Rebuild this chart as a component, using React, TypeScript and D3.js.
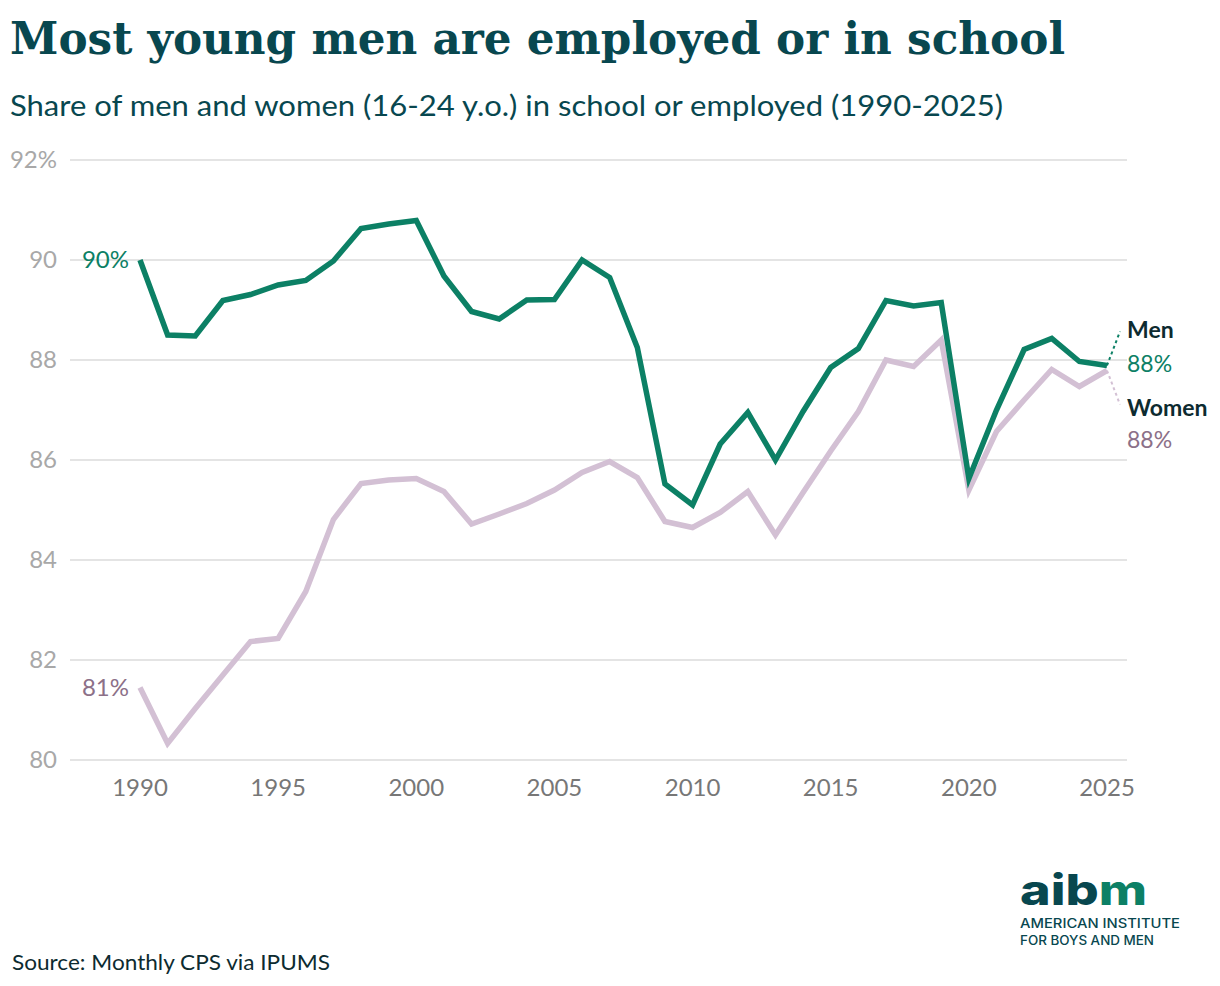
import * as d3 from "d3";

const years = [
  1990, 1991, 1992, 1993, 1994, 1995, 1996, 1997, 1998, 1999,
  2000, 2001, 2002, 2003, 2004, 2005, 2006, 2007, 2008, 2009,
  2010, 2011, 2012, 2013, 2014, 2015, 2016, 2017, 2018, 2019,
  2020, 2021, 2022, 2023, 2024, 2025,
];

const men = [
  90.0, 88.5, 88.48, 89.19, 89.31, 89.5, 89.59, 89.98, 90.63, 90.72,
  90.79, 89.68, 88.97, 88.82, 89.2, 89.21, 90.0, 89.65, 88.25, 85.52,
  85.1, 86.32, 86.95, 86.0, 86.97, 87.85, 88.23, 89.19, 89.08, 89.15,
  85.63, 87.0, 88.21, 88.43, 87.97, 87.89,
];

const women = [
  81.45, 80.33, 81.03, 81.7, 82.37, 82.43, 83.37, 84.81, 85.53, 85.6,
  85.63, 85.37, 84.72, 84.92, 85.13, 85.4, 85.75, 85.97, 85.65, 84.77,
  84.65, 84.95, 85.37, 84.5, 85.35, 86.18, 86.97, 88.0, 87.87, 88.4,
  85.4, 86.57, 87.2, 87.81, 87.47, 87.79,
];

const yTicks = [80, 82, 84, 86, 88, 90, 92];
const xTicks = [1990, 1995, 2000, 2005, 2010, 2015, 2020, 2025];

const title = "Most young men are employed or in school";
const subtitle = "Share of men and women (16-24 y.o.) in school or employed (1990-2025)";
const source = "Source: Monthly CPS via IPUMS";

const width = 1220;
const height = 986;

const GREEN = "#0c8065";
const LILAC = "#d3c0d4";
const LILAC_TEXT = "#8c7088";
const TEAL = "#08474f";
const DARK = "#0d2b30";
const SANS = "Lato, 'Noto Sans', sans-serif";

export default function App() {
  const x = d3.scaleLinear().domain([1990, 2025]).range([140, 1107]);
  const y = d3.scaleLinear().domain([80, 92]).range([760, 160]);

  const line = d3
    .line<number>()
    .x((_, i) => x(years[i]))
    .y((d) => y(d));

  const last = years.length - 1;
  const xEnd = x(years[last]);

  return (
    <svg
      width={width}
      height={height}
      style={{ position: "absolute", left: 0, top: 0, background: "#fff" }}
    >
      {/* title and subtitle */}
      <text
        x={10}
        y={54}
        fill={TEAL}
        fontFamily="'DejaVu Serif', serif"
        fontWeight={700}
        fontSize={44}
        textLength={1055}
        lengthAdjust="spacingAndGlyphs"
      >
        {title}
      </text>
      <text
        x={10}
        y={116}
        fill={TEAL}
        fontFamily={SANS}
        fontSize={28}
        textLength={993}
        lengthAdjust="spacingAndGlyphs"
      >
        {subtitle}
      </text>

      {/* grid + y labels */}
      {yTicks.map((t) => (
        <g key={t}>
          <line x1={70} x2={1127} y1={y(t)} y2={y(t)} stroke="#e4e4e4" strokeWidth={2} />
          <text
            x={57}
            y={y(t) + 8}
            textAnchor="end"
            fill="#a8a8a8"
            fontFamily={SANS}
            fontSize={24}
          >
            {t === 92 ? `${t}%` : t}
          </text>
        </g>
      ))}

      {/* x labels */}
      {xTicks.map((t) => (
        <text
          key={t}
          x={x(t)}
          y={796}
          textAnchor="middle"
          fill="#777"
          fontFamily={SANS}
          fontSize={24}
        >
          {t}
        </text>
      ))}

      {/* lines */}
      <path d={line(women) ?? ""} fill="none" stroke={LILAC} strokeWidth={5.5} />
      <path d={line(men) ?? ""} fill="none" stroke={GREEN} strokeWidth={5.5} />

      {/* start labels */}
      <text x={129} y={y(men[0]) + 8} textAnchor="end" fill={GREEN} fontFamily={SANS} fontSize={24}>
        {`${Math.round(men[0])}%`}
      </text>
      <text x={129} y={y(women[0]) + 8} textAnchor="end" fill={LILAC_TEXT} fontFamily={SANS} fontSize={24}>
        {`${Math.round(women[0])}%`}
      </text>

      {/* end labels with leader lines */}
      <line
        x1={xEnd}
        y1={y(men[last])}
        x2={xEnd + 13}
        y2={y(men[last]) - 34}
        stroke={GREEN}
        strokeWidth={2}
        strokeDasharray="3 3"
      />
      <line
        x1={xEnd}
        y1={y(women[last])}
        x2={xEnd + 13}
        y2={y(women[last]) + 34}
        stroke={LILAC}
        strokeWidth={2}
        strokeDasharray="3 3"
      />
      <text x={1127} y={338} fill={DARK} fontFamily={SANS} fontWeight={700} fontSize={23}>
        Men
      </text>
      <text x={1127} y={372} fill={GREEN} fontFamily={SANS} fontSize={23}>
        {`${Math.round(men[last])}%`}
      </text>
      <text x={1127} y={416} fill={DARK} fontFamily={SANS} fontWeight={700} fontSize={23}>
        Women
      </text>
      <text x={1127} y={448} fill={LILAC_TEXT} fontFamily={SANS} fontSize={23}>
        {`${Math.round(women[last])}%`}
      </text>

      {/* logo */}
      <text
        x={1020}
        y={905}
        fontFamily="Inter, sans-serif"
        fontWeight={800}
        fontSize={42}
        textLength={127}
        lengthAdjust="spacingAndGlyphs"
      >
        <tspan fill={TEAL}>aib</tspan>
        <tspan fill={GREEN}>m</tspan>
      </text>
      <text
        x={1020}
        y={928}
        fill={TEAL}
        fontFamily="Inter, sans-serif"
        fontWeight={500}
        fontSize={12.5}
        textLength={160}
        lengthAdjust="spacingAndGlyphs"
      >
        AMERICAN INSTITUTE
      </text>
      <text
        x={1020}
        y={945}
        fill={TEAL}
        fontFamily="Inter, sans-serif"
        fontWeight={500}
        fontSize={12.5}
        textLength={134}
        lengthAdjust="spacingAndGlyphs"
      >
        FOR BOYS AND MEN
      </text>

      {/* source */}
      <text
        x={12}
        y={970}
        fill={DARK}
        fontFamily={SANS}
        fontSize={22}
        textLength={318}
        lengthAdjust="spacingAndGlyphs"
      >
        {source}
      </text>
    </svg>
  );
}
